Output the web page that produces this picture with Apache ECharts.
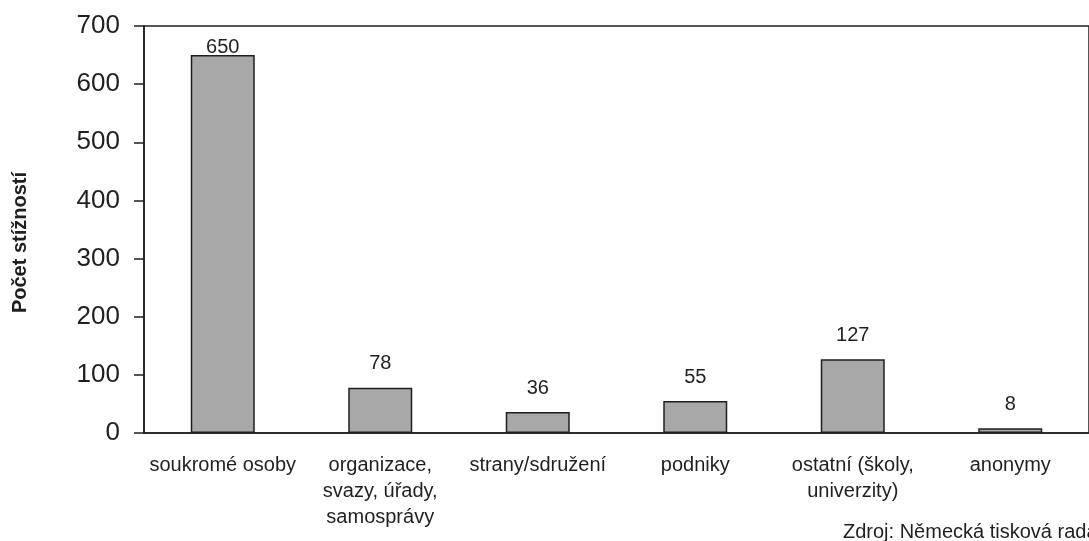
<!DOCTYPE html>
<html lang="cs">
<head>
<meta charset="utf-8">
<title>Počet stížností</title>
<script src="https://cdn.jsdelivr.net/npm/echarts@6/dist/echarts.min.js"></script>
<style>
  html, body { margin: 0; padding: 0; background: #ffffff; }
  #chart { width: 1089px; height: 541px; }
</style>
</head>
<body>
<div id="chart"></div>
<script>
// Complaint sources and counts
const categories = [
  'soukromé osoby',
  'organizace,\nsvazy, úřady,\nsamosprávy',
  'strany/sdružení',
  'podniky',
  'ostatní (školy,\nuniverzity)',
  'anonymy'
];
const complaints = [650, 78, 36, 55, 127, 8];
const yTicks = { min: 0, max: 700, step: 100 };
const yAxisTitle = 'Počet stížností';
const sourceNote = 'Zdroj: Německá tisková rada';

const ink = '#1f1f1f';
const font = '"Liberation Sans", Arial, sans-serif';

const chart = echarts.init(document.getElementById('chart'), null, { renderer: 'canvas' });

chart.setOption({
  backgroundColor: '#ffffff',
  animation: false,
  textStyle: { fontFamily: font, color: ink },
  grid: {
    left: 144,
    top: 26,
    bottom: 108,
    width: 948,
    show: true,
    borderColor: ink,
    borderWidth: 1.5,
    backgroundColor: 'transparent'
  },
  xAxis: {
    type: 'category',
    data: categories,
    axisLine: { lineStyle: { color: ink, width: 1.5 } },
    axisTick: { show: false },
    axisLabel: {
      color: ink,
      fontFamily: font,
      fontSize: 20,
      lineHeight: 26,
      margin: 19,
      interval: 0
    },
    splitLine: { show: false }
  },
  yAxis: {
    type: 'value',
    min: yTicks.min,
    max: yTicks.max,
    interval: yTicks.step,
    name: yAxisTitle,
    nameLocation: 'middle',
    nameGap: 114,
    nameRotate: 90,
    nameTextStyle: {
      color: ink,
      fontFamily: font,
      fontSize: 20,
      fontWeight: 'bold',
      padding: [0, 26, 0, 0]
    },
    axisLine: { show: true, lineStyle: { color: ink, width: 1.5 } },
    axisTick: { show: true, inside: false, length: 10, lineStyle: { color: ink, width: 1.5 } },
    axisLabel: {
      color: ink,
      fontFamily: font,
      fontSize: 26,
      margin: 24
    },
    splitLine: { show: false }
  },
  series: [{
    type: 'bar',
    data: complaints.map((v, i) => ({
      value: v,
      // the tallest bar's label sits right on the bar top, under the frame
      label: i === 0 ? { distance: -2 } : undefined
    })),
    barWidth: 64,
    itemStyle: {
      color: '#a8a8a8',
      borderColor: ink,
      borderWidth: 1.5
    },
    label: {
      show: true,
      position: 'top',
      distance: 14,
      color: ink,
      fontFamily: font,
      fontSize: 20
    }
  }],
  graphic: [{
    type: 'text',
    left: 843,
    top: 522,
    style: {
      text: sourceNote,
      fill: ink,
      font: '20px ' + font
    }
  }]
});
</script>
</body>
</html>
